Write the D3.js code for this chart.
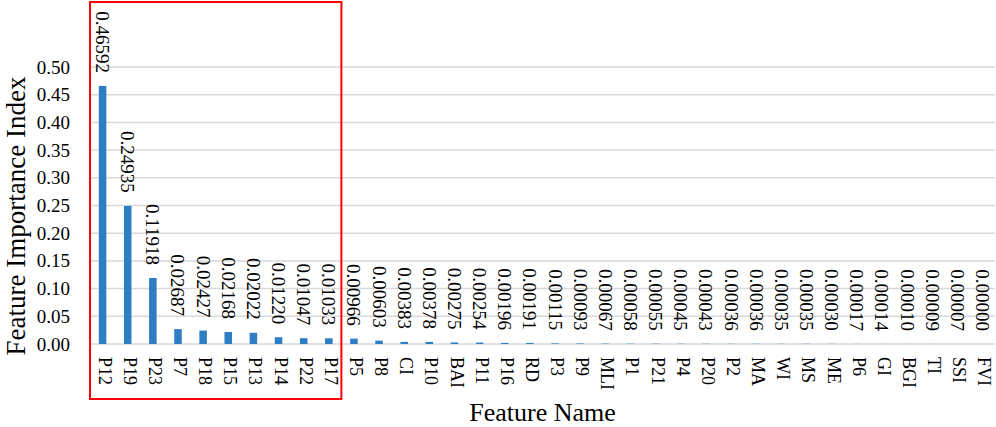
<!DOCTYPE html>
<html lang="en">
<head>
<meta charset="utf-8">
<title>Feature Importance</title>
<script type="text/javascript" src="https://cdn.jsdelivr.net/npm/d3@7"></script>
<style>
  body { margin: 0; background: #fff; }
  text { font-family: "Liberation Serif", "Times New Roman", serif; fill: #000; }
</style>
</head>
<body>
<script type="text/javascript">
  let features = ["P12", "P19", "P23", "P7", "P18", "P15", "P13", "P14", "P22", "P17",
    "P5", "P8", "CI", "P10", "BAI", "P11", "P16", "RD", "P3", "P9", "MLI", "P1", "P21",
    "P4", "P20", "P2", "MA", "WI", "MS", "ME", "P6", "GI", "BGI", "TI", "SSI", "FVI"]

  let importance = [0.46592, 0.24935, 0.11918, 0.02687, 0.02427, 0.02168, 0.02022, 0.01220, 0.01047, 0.01033,
    0.00966, 0.00603, 0.00383, 0.00378, 0.00275, 0.00254, 0.00196, 0.00191, 0.00115, 0.00093, 0.00067, 0.00058, 0.00055,
    0.00045, 0.00043, 0.00036, 0.00036, 0.00035, 0.00035, 0.00030, 0.00017, 0.00014, 0.00010, 0.00009, 0.00007, 0.00000]

  let yTicks = [0, 0.05, 0.10, 0.15, 0.20, 0.25, 0.30, 0.35, 0.40, 0.45, 0.50]

  // top features boxed in red
  let highlightCount = 10

  let w = 996;
  let h = 427;
  let plotLeft = 90, plotRight = 995, plotTop = 67, plotBottom = 344

  let data = features.map((f, i) => ({ name: f, value: importance[i] }))

  let xScale = d3.scaleBand()
    .domain(features)
    .range([plotLeft, plotRight])
    .paddingInner(0.7)
    .paddingOuter(0.35);

  let yScale = d3.scaleLinear()
    .domain([0, 0.5])
    .range([plotBottom, plotTop]);

  let svg = d3.select("body")
    .append("svg")
    .attr("width", w)
    .attr("height", h);

  // gridlines
  svg.append("g")
    .selectAll("line")
    .data(yTicks)
    .enter()
    .append("line")
    .attr("x1", plotLeft)
    .attr("x2", plotRight)
    .attr("y1", (d) => yScale(d))
    .attr("y2", (d) => yScale(d))
    .attr("stroke", "#d9d9d9")
    .attr("stroke-width", 1.5);

  let yAxis = d3.axisLeft(yScale)
    .tickValues(yTicks)
    .tickFormat(d3.format(".2f"))
    .tickSize(0)
    .tickPadding(0);

  let gy = svg.append("g")
    .attr("transform", "translate(70,0)")
    .call(yAxis);
  gy.select(".domain").remove();
  gy.selectAll("text")
    .attr("font-size", 19)
    .attr("font-family", "Liberation Serif");

  let cx = (d) => xScale(d.name) + xScale.bandwidth() / 2

  svg.selectAll("rect.bar")
    .data(data)
    .enter()
    .append("rect")
    .attr("class", "bar")
    .attr("x", (d) => xScale(d.name))
    .attr("y", (d) => yScale(d.value))
    .attr("width", xScale.bandwidth())
    .attr("height", (d) => plotBottom - yScale(d.value))
    .attr("fill", "#2e7ec6");

  // value labels
  svg.selectAll("text.val")
    .data(data)
    .enter()
    .append("text")
    .attr("class", "val")
    .attr("transform", (d) => "translate(" + cx(d) + "," + (yScale(d.value) - 13) + ") rotate(90)")
    .attr("text-anchor", "end")
    .attr("dominant-baseline", "central")
    .attr("font-size", 19)
    .text((d) => d3.format(".5f")(d.value));

  // category labels
  svg.selectAll("text.cat")
    .data(data)
    .enter()
    .append("text")
    .attr("class", "cat")
    .attr("transform", (d) => "translate(" + (cx(d) + 2) + "," + (plotBottom + 13) + ") rotate(90)")
    .attr("text-anchor", "start")
    .attr("dominant-baseline", "central")
    .attr("font-size", 18)
    .text((d) => d.name);

  // highlight box
  let boxX0 = xScale(features[0]) - xScale.step() * xScale.paddingOuter()
  let boxX1 = xScale(features[highlightCount - 1]) + xScale.bandwidth() + xScale.step() * xScale.paddingInner() / 2
  svg.append("rect")
    .attr("x", boxX0)
    .attr("y", 2)
    .attr("width", boxX1 - boxX0)
    .attr("height", 397)
    .attr("fill", "none")
    .attr("stroke", "#ff0000")
    .attr("stroke-width", 2);

  svg.append("text")
    .attr("x", (plotLeft + plotRight) / 2)
    .attr("y", 421)
    .attr("text-anchor", "middle")
    .attr("font-size", 26)
    .text("Feature Name");

  svg.append("text")
    .attr("transform", "translate(25,216) rotate(-90)")
    .attr("text-anchor", "middle")
    .attr("font-size", 27)
    .text("Feature Importance Index");
</script>
</body>
</html>
